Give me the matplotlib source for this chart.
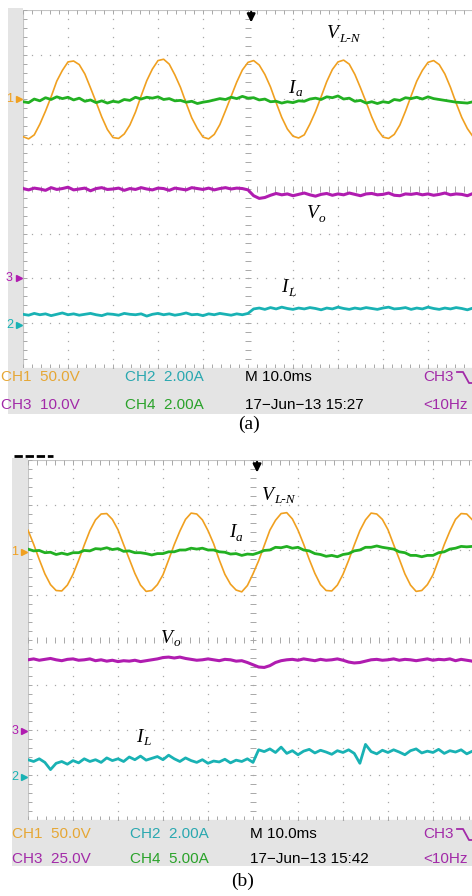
import matplotlib.pyplot as plt
import numpy as np
from matplotlib.lines import Line2D
from matplotlib.patches import Rectangle

W, H = 472, 896

# one sample every 1.25 ms, screen is 10 div x 10 ms
t_div = np.arange(81) * 0.125

# ---- panel (a), values in screen divisions (0 = centre line) ----
a_vln = [1.17, 1.12, 1.21, 1.45, 1.74, 2.06, 2.41, 2.65, 2.84, 2.86, 2.78, 2.57, 2.26, 1.94, 1.61, 1.33,
         1.15, 1.13, 1.23, 1.43, 1.72, 2.08, 2.42, 2.68, 2.87, 2.90, 2.79, 2.55, 2.27, 1.92, 1.59, 1.35,
         1.16, 1.12, 1.22, 1.44, 1.75, 2.07, 2.39, 2.66, 2.83, 2.87, 2.77, 2.56, 2.28, 1.93, 1.60, 1.34,
         1.18, 1.14, 1.21, 1.45, 1.73, 2.06, 2.40, 2.67, 2.84, 2.88, 2.79, 2.56, 2.26, 1.94, 1.61, 1.33,
         1.16, 1.13, 1.22, 1.43, 1.74, 2.08, 2.41, 2.65, 2.83, 2.87, 2.78, 2.57, 2.27, 1.92, 1.60, 1.35,
         1.17]
a_ia = [1.95, 1.93, 2.01, 1.97, 2.04, 2.00, 2.06, 2.02, 2.05, 1.99, 2.03, 1.96, 1.99, 1.93, 1.97, 1.92,
        1.96, 1.94, 2.00, 1.98, 2.05, 2.01, 2.05, 2.03, 2.06, 2.00, 2.02, 1.97, 1.98, 1.94, 1.96, 1.91,
        1.94, 1.96, 1.99, 2.02, 2.00, 2.05, 2.02, 2.07, 2.03, 2.04, 1.99, 2.01, 1.95, 1.96, 1.92, 1.95,
        1.93, 1.97, 1.96, 2.01, 2.03, 2.00, 2.06, 2.04, 2.08, 2.01, 2.03, 1.96, 1.98, 1.92, 1.95, 1.91,
        1.95, 1.93, 2.00, 1.98, 2.04, 2.02, 2.05, 2.01, 2.06, 2.02, 2.00, 1.98, 1.96, 1.94, 1.93, 1.92,
        1.95]
a_vo = [0.01, -0.02, 0.02, 0.00, -0.03, 0.03, -0.01, 0.01, 0.04, -0.02, 0.00, 0.02, -0.04, 0.01, 0.03, -0.01,
        0.00, 0.02, -0.03, 0.01, -0.01, 0.03, 0.00, -0.02, 0.02, 0.01, -0.03, 0.02, 0.00, -0.02, 0.03, 0.01,
        -0.01, 0.02, -0.02, 0.01, 0.03, 0.00, 0.02, 0.01, -0.02,
        -0.15, -0.21, -0.19, -0.14, -0.10, -0.13, -0.11, -0.15, -0.12, -0.09,
        -0.13, -0.16, -0.12, -0.10, -0.14, -0.11, -0.13, -0.09, -0.12, -0.15,
        -0.11, -0.10, -0.13, -0.12, -0.09, -0.14, -0.15, -0.11, -0.12, -0.10,
        -0.13, -0.11, -0.14, -0.12, -0.09, -0.13, -0.11, -0.12, -0.15, -0.10]
a_il = [-2.80, -2.82, -2.78, -2.81, -2.79, -2.83, -2.80, -2.77, -2.81, -2.79, -2.82, -2.80, -2.78, -2.81,
        -2.83, -2.79, -2.80, -2.82, -2.78, -2.80, -2.81, -2.79, -2.84, -2.80, -2.78, -2.81, -2.79, -2.82,
        -2.80, -2.77, -2.81, -2.80, -2.83, -2.79, -2.81, -2.78, -2.80, -2.82, -2.79, -2.81, -2.78,
        -2.68, -2.66, -2.69, -2.65, -2.68, -2.64, -2.67, -2.69, -2.66, -2.68,
        -2.65, -2.67, -2.70, -2.66, -2.68, -2.64, -2.67, -2.69, -2.66, -2.68,
        -2.65, -2.67, -2.69, -2.66, -2.64, -2.68, -2.67, -2.65, -2.69, -2.66,
        -2.68, -2.64, -2.67, -2.69, -2.66, -2.68, -2.65, -2.67, -2.70, -2.66]

# ---- panel (b) ----
b_vln = [2.44, 2.13, 1.79, 1.47, 1.23, 1.10, 1.09, 1.22, 1.46, 1.77, 2.11, 2.43, 2.67, 2.80, 2.81, 2.68,
         2.45, 2.12, 1.80, 1.48, 1.22, 1.08, 1.10, 1.23, 1.45, 1.78, 2.12, 2.42, 2.68, 2.82, 2.80, 2.67,
         2.43, 2.14, 1.78, 1.46, 1.24, 1.11, 1.07, 1.21, 1.47, 1.76, 2.10, 2.44, 2.66, 2.81, 2.83, 2.69,
         2.44, 2.13, 1.79, 1.48, 1.23, 1.10, 1.09, 1.22, 1.46, 1.77, 2.11, 2.43, 2.67, 2.82, 2.80, 2.68,
         2.45, 2.12, 1.80, 1.47, 1.22, 1.08, 1.10, 1.23, 1.45, 1.78, 2.12, 2.42, 2.68, 2.81, 2.80, 2.67,
         2.44]
b_ia = [2.02, 1.98, 1.99, 1.94, 1.95, 1.90, 1.93, 1.90, 1.94, 1.94, 1.99, 1.98, 2.03, 2.02, 2.05, 2.01,
        2.03, 1.97, 1.98, 1.94, 1.94, 1.92, 1.89, 1.92, 1.92, 1.96, 1.96, 2.00, 2.00, 2.04, 2.02, 2.04,
        2.00, 2.00, 1.96, 1.95, 1.91, 1.92, 1.88, 1.91, 1.90, 1.94, 1.99, 2.00, 2.06, 2.05, 2.08, 2.04,
        2.06, 2.00, 1.98, 1.92, 1.90, 1.86, 1.88, 1.85, 1.90, 1.92, 1.98, 2.00, 2.06, 2.06, 2.09, 2.06,
        2.04, 2.02, 1.96, 1.94, 1.88, 1.88, 1.85, 1.88, 1.88, 1.94, 1.96, 2.02, 2.04, 2.08, 2.07, 2.08,
        2.05]
b_vo = [-0.44, -0.42, -0.45, -0.43, -0.41, -0.44, -0.46, -0.43, -0.42, -0.45, -0.44, -0.42, -0.46, -0.44, -0.47, -0.45,
        -0.48, -0.46, -0.47, -0.45, -0.48, -0.46, -0.44, -0.42, -0.39, -0.38, -0.40, -0.38, -0.41, -0.43, -0.45, -0.44,
        -0.42, -0.44, -0.46, -0.43, -0.44, -0.47, -0.46, -0.50, -0.55, -0.60, -0.61, -0.57, -0.50, -0.46, -0.44, -0.43,
        -0.45, -0.42, -0.44, -0.46, -0.43, -0.45, -0.44, -0.42, -0.45, -0.49, -0.51, -0.50, -0.47, -0.44, -0.43, -0.45,
        -0.44, -0.42, -0.45, -0.43, -0.44, -0.46, -0.44, -0.42, -0.45, -0.43, -0.44, -0.42, -0.46, -0.43, -0.45, -0.47,
        -0.58]
b_il = [-2.66, -2.70, -2.64, -2.72, -2.88, -2.74, -2.70, -2.76, -2.68, -2.73, -2.64, -2.70, -2.66, -2.72, -2.62, -2.68,
        -2.64, -2.70, -2.60, -2.66, -2.58, -2.67, -2.63, -2.59, -2.66, -2.56, -2.64, -2.70, -2.62, -2.68, -2.72, -2.66,
        -2.74, -2.69, -2.71, -2.65, -2.73, -2.67, -2.70, -2.64, -2.72,
        -2.44, -2.48, -2.42, -2.50, -2.38, -2.52, -2.46, -2.55, -2.47, -2.43,
        -2.51, -2.45, -2.49, -2.54, -2.46, -2.50, -2.44, -2.52, -2.74, -2.32,
        -2.48, -2.53, -2.45, -2.50, -2.44, -2.49, -2.55, -2.46, -2.42, -2.51,
        -2.47, -2.50, -2.43, -2.52, -2.46, -2.49, -2.44, -2.53, -2.47, -2.50]

# ground reference markers (channel number, level in div)
ground_a = [("1", 2.0), ("3", -2.0), ("2", -3.05)]
ground_b = [("1", 1.95), ("3", -2.02), ("2", -3.04)]

status_a = ["CH1  50.0V", "CH2  2.00A", "M 10.0ms", "CH3",
            "CH3  10.0V", "CH4  2.00A", "17\u2212Jun\u221213 15:27", "<10Hz"]
status_b = ["CH1  50.0V", "CH2  2.00A", "M 10.0ms", "CH3",
            "CH3  25.0V", "CH4  5.00A", "17\u2212Jun\u221213 15:42", "<10Hz"]

C1, C2, C3, C4 = "#f0a020", "#19b2b4", "#b01cb0", "#22b022"
T1, T2, T3, T4 = "#e6a735", "#2aa8b0", "#a22aa8", "#2aa22a"
GRAY = "#e4e4e4"
SERIF = ["Liberation Serif", "DejaVu Serif"]
SANS = ["Liberation Sans", "DejaVu Sans"]

fig = plt.figure(figsize=(W / 100, H / 100), dpi=100)


def fx(x):
    return x / W


def fy(y):
    return 1 - y / H


def add_rect(x0, y0, x1, y1):
    fig.add_artist(Rectangle((fx(x0), fy(y1)), (x1 - x0) / W, (y1 - y0) / H,
                             transform=fig.transFigure, color=GRAY, zorder=-5, lw=0))


def draw_screen(x0, y0, x1, y1):
    ax = fig.add_axes([fx(x0), fy(y1), (x1 - x0) / W, (y1 - y0) / H])
    ax.set_xlim(0, 10)
    ax.set_ylim(-4, 4)
    ax.set_axis_off()
    gc = "#a8a8a8"
    xd = np.arange(0, 10.01, 0.2)
    yd = np.arange(-4, 4.01, 0.2)
    for i in range(1, 10):
        if i != 5:
            ax.plot(np.full(len(yd), i), yd, ls="none", marker="s", ms=0.9, color=gc, mew=0)
    for j in range(-3, 4):
        if j != 0:
            ax.plot(xd, np.full(len(xd), j), ls="none", marker="s", ms=0.9, color=gc, mew=0)
    ax.plot([0, 10, 10, 0, 0], [-4, -4, 4, 4, -4], color="#c4c4c4", lw=0.8)
    ax.vlines(xd, 3.9, 4.0, color=gc, lw=0.7)
    ax.vlines(xd, -4.0, -3.9, color=gc, lw=0.7)
    ax.hlines(yd, 0, 0.08, color=gc, lw=0.7)
    ax.hlines(yd, 4.93, 5.07, color=gc, lw=0.7)
    ax.vlines(xd, -0.07, 0.07, color=gc, lw=0.7)
    return ax


def label(ax, x, y, main, sub):
    t = ax.text(x, y, main, fontsize=14, style="italic", family=SERIF, va="center", ha="left")
    ax.annotate(sub, xy=(1, 0.2), xycoords=t, xytext=(0.3, 0), textcoords="offset points",
                fontsize=9.5, style="italic", family=SERIF, va="center", ha="left")


def traces(ax, vln, ia, vo, il, grounds, trig_x):
    ax.plot(t_div, vln, color=C1, lw=1.2)
    ax.plot(t_div, ia, color=C4, lw=2.0)
    ax.plot(t_div, vo, color=C3, lw=2.2)
    ax.plot(t_div, il, color=C2, lw=2.0)
    colors = {"1": C1, "2": C2, "3": C3}
    for ch, lvl in grounds:
        ax.plot([-0.1], [lvl], marker=">", ms=4, color=colors[ch], clip_on=False)
        ax.text(-0.3, lvl, ch, fontsize=9, family=SANS, color=colors[ch],
                ha="center", va="center", clip_on=False)
    ax.annotate("", xy=(trig_x, 3.66), xytext=(trig_x, 4.02),
                arrowprops=dict(arrowstyle="-|>", color="black", lw=1.6, mutation_scale=12))


def status(texts, x_cols, y_rows):
    cols = [T1, T2, "black", T3, T3, T4, "black", T3]
    for k, s in enumerate(texts):
        fig.text(fx(x_cols[k % 4]), fy(y_rows[k // 4]), s, color=cols[k], fontsize=11,
                 family=SANS, va="center", ha="left")
    xs, ys = x_cols[3] + 34, y_rows[0]
    fig.add_artist(Line2D([fx(xs), fx(xs + 6), fx(xs + 12), fx(xs + 17)],
                          [fy(ys - 5), fy(ys - 5), fy(ys + 6), fy(ys + 6)],
                          transform=fig.transFigure, color=T3, lw=1.3))


# panel (a)
add_rect(8, 8, 23, 368)
add_rect(8, 368, 472, 414)
ax_a = draw_screen(23, 10, 473, 368)
traces(ax_a, a_vln, a_ia, a_vo, a_il, ground_a, 5.07)
label(ax_a, 6.75, 3.47, "V", "L-N")
label(ax_a, 5.9, 2.25, "I", "a")
label(ax_a, 6.3, -0.55, "V", "o")
label(ax_a, 5.73, -2.2, "I", "L")
status(status_a, [1, 125, 245, 423], [377, 405])
fig.text(fx(249), fy(424), "(a)", fontsize=14, family=SERIF, ha="center", va="center")

# panel (b)
add_rect(12, 458, 28, 820)
add_rect(12, 820, 472, 866)
ax_b = draw_screen(28, 460, 478, 820)
traces(ax_b, b_vln, b_ia, b_vo, b_il, ground_b, 5.09)
label(ax_b, 5.2, 3.22, "V", "L-N")
label(ax_b, 4.47, 2.38, "I", "a")
label(ax_b, 2.96, 0.04, "V", "o")
label(ax_b, 2.4, -2.16, "I", "L")
status(status_b, [12, 130, 250, 423], [834, 859])
fig.text(fx(243), fy(881), "(b)", fontsize=14, family=SERIF, ha="center", va="center")
fig.add_artist(Line2D([fx(14), fx(53)], [fy(456), fy(456)], transform=fig.transFigure,
                      color="black", lw=2, dashes=(3, 1)))

fig.savefig("out.png", dpi=100)
